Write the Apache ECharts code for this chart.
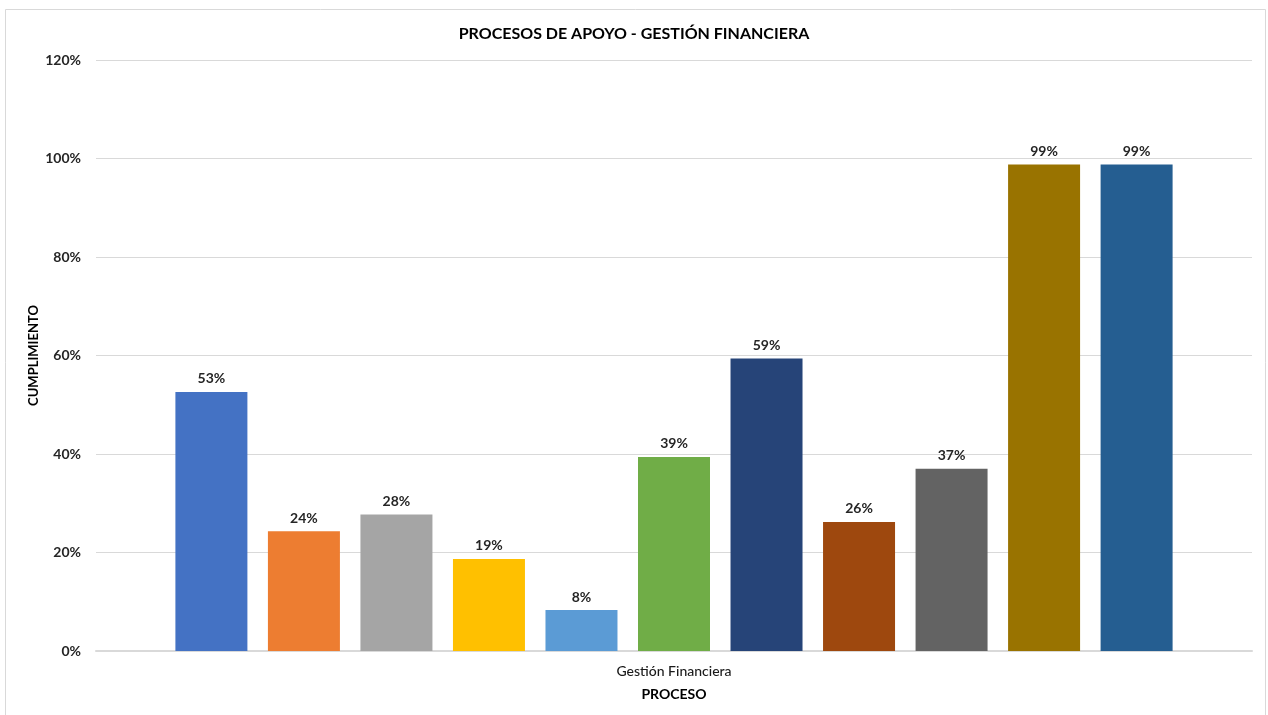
<!DOCTYPE html>
<html>
<head>
<meta charset="utf-8">
<script src="https://cdn.jsdelivr.net/npm/echarts@6/dist/echarts.min.js"></script>
<style>
  html, body { margin: 0; padding: 0; background: #fff; }
  #chart { width: 1268px; height: 715px; }
</style>
</head>
<body>
<div id="chart"></div>
<script>
// Cumplimiento por indicador, proceso de Gestión Financiera (valores en %)
const categories = ['Gestión Financiera'];
const seriesNames = ['Indicador 1', 'Indicador 2', 'Indicador 3', 'Indicador 4', 'Indicador 5', 'Indicador 6',
                     'Indicador 7', 'Indicador 8', 'Indicador 9', 'Indicador 10', 'Indicador 11'];
const seriesValues = [52.6, 24.3, 27.7, 18.7, 8.3, 39.4, 59.4, 26.2, 37.0, 98.8, 98.8];
const seriesColors = ['#4472C4', '#ED7D31', '#A5A5A5', '#FFC000', '#5B9BD5', '#70AD47',
                      '#264478', '#9E480E', '#636363', '#997300', '#255E91'];
const yTicks = [0, 20, 40, 60, 80, 100, 120];

const FONT = 'Lato, "Open Sans", sans-serif';

const chart = echarts.init(document.getElementById('chart'), null, { renderer: 'canvas' });

const series = seriesNames.map((name, i) => ({
  name: name,
  type: 'bar',
  data: [seriesValues[i]],
  barWidth: 72,
  barGap: '28.5%',
  itemStyle: { color: seriesColors[i] },
  label: {
    show: true,
    position: 'top',
    distance: 6,
    formatter: p => Math.round(p.value) + '%',
    color: '#262626',
    fontFamily: FONT,
    fontWeight: 'bold',
    fontSize: 14
  }
}));

chart.setOption({
  animation: false,
  backgroundColor: '#fff',
  graphic: [{
    type: 'rect',
    shape: { x: 5.5, y: 9.5, width: 1260, height: 720 },
    style: { fill: 'none', stroke: '#d9d9d9', lineWidth: 1 },
    silent: true
  }],
  title: {
    text: 'PROCESOS DE APOYO - GESTIÓN FINANCIERA',
    left: 'center',
    top: 21,
    textStyle: { fontFamily: FONT, fontWeight: 'bold', fontSize: 16, color: '#000' }
  },
  grid: { left: 96, right: 16, top: 60, bottom: 64, containLabel: false },
  xAxis: {
    type: 'category',
    data: categories,
    name: 'PROCESO',
    nameLocation: 'middle',
    nameGap: 36,
    nameTextStyle: { fontFamily: FONT, fontWeight: 'bold', fontSize: 14, color: '#000' },
    axisLine: { show: true, lineStyle: { color: '#d9d9d9', width: 2 } },
    axisTick: { show: false },
    axisLabel: { fontFamily: FONT, fontWeight: 500, fontSize: 14, color: '#1a1a1a', margin: 13 }
  },
  yAxis: {
    type: 'value',
    min: yTicks[0],
    max: yTicks[yTicks.length - 1],
    interval: 20,
    name: 'CUMPLIMIENTO',
    nameLocation: 'middle',
    nameGap: 56,
    nameMoveOverlap: false,
    nameRotate: 90,
    nameTextStyle: { fontFamily: FONT, fontWeight: 'bold', fontSize: 13, color: '#000' },
    axisLine: { show: false },
    axisTick: { show: false },
    splitLine: { lineStyle: { color: '#d9d9d9', width: 1 } },
    axisLabel: {
      formatter: v => v + '%',
      fontFamily: FONT,
      fontWeight: 'bold',
      fontSize: 14,
      color: '#262626',
      margin: 15
    }
  },
  series: series
});
</script>
</body>
</html>
